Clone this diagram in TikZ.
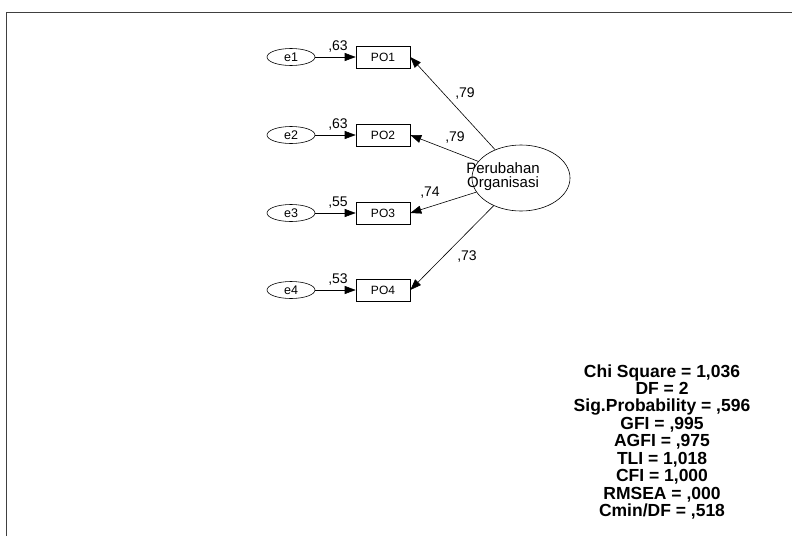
\documentclass[tikz,border=0pt]{standalone}
\usepackage{fontspec}
\setmainfont{Liberation Sans}
\usetikzlibrary{arrows.meta,shapes.geometric}
\tikzset{
  err/.style={draw, ellipse, minimum width=48pt, minimum height=17pt, inner sep=0pt, font=\fontsize{12.5}{12.5}\selectfont},
  ind/.style={draw, rectangle, minimum width=54pt, minimum height=22pt, inner sep=0pt, font=\fontsize{12}{12}\selectfont},
  lat/.style={draw, ellipse, minimum width=98pt, minimum height=66pt, inner sep=0pt},
  coef/.style={font=\fontsize{14}{14}\selectfont, inner sep=0pt},
  fitline/.style={font=\bfseries\fontsize{17.5}{17.5}\selectfont, anchor=base, inner sep=0pt},
}
\begin{document}
\begin{tikzpicture}[x=1pt, y=-1pt, >={Triangle[length=11pt,width=8pt]}, line width=.6pt]
\useasboundingbox (0,0) rectangle (792,536);
\draw[line width=1.4pt, black!75] (6.5,536) -- (6.5,12.5) -- (792,12.5);

\node[lat, label={[coef, align=center, xshift=-18pt, yshift=1pt, font=\fontsize{15}{14}\selectfont]center:{Perubahan\\Organisasi}}] (org) at (521,178) {};

\foreach \i/\y/\r in {1/57/63, 2/135/63, 3/213/55, 4/290/53}{
  \node[err] (e\i) at (291,\y) {e\i};
  \node[ind] (po\i) at (383,\y) {PO\i};
  \draw[->] (e\i) -- (po\i);
  \node[coef] (r\i) at (338,\y-10) {,\r};
  \draw[->] (org) -- (po\i.east);
}

\node[coef] (l1) at (465,94) {,79};
\node[coef] (l2) at (455,138) {,79};
\node[coef] (l3) at (430,193) {,74};
\node[coef] (l4) at (467,257) {,73};

\foreach \t [count=\k] in {{Chi Square = 1,036}, {DF = 2}, {Sig.Probability = ,596},
  {GFI = ,995}, {AGFI = ,975}, {TLI = 1,018}, {CFI = 1,000}, {RMSEA = ,000}, {Cmin/DF = ,518}}
  \node[fitline] (fit\k) at (662,359.55+17.45*\k) {\t};
\end{tikzpicture}
\end{document}
